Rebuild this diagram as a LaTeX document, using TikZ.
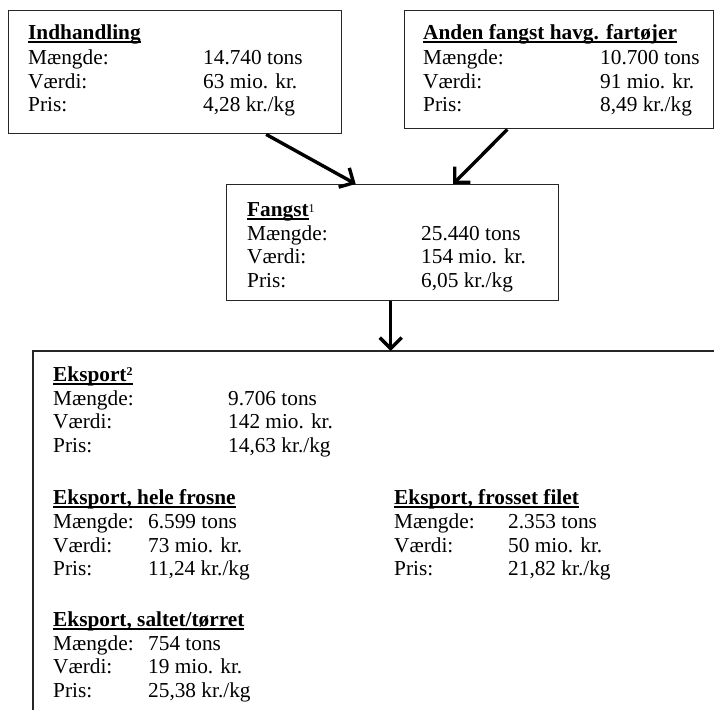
\documentclass[tikz,border=0pt]{standalone}
\usepackage{fontspec}
\setmainfont{Liberation Serif}
\usetikzlibrary{arrows.meta,calc}
\newcommand{\ulx}[1]{\setbox0\hbox{#1}\rlap{\rule[-3.8pt]{\wd0}{1.6pt}}\box0}
\newcommand{\supx}[2]{\raisebox{#1}{\fontsize{12}{12}\selectfont #2}}
\begin{document}
\begin{tikzpicture}[x=1pt,y=-1pt,
  box/.style={draw=black!85, line width=1.4pt, rectangle, anchor=north west, inner sep=0pt},
  boxline/.style={draw=black!85, line width=1.4pt},
  txt/.style={anchor=base west, inner sep=0pt, font=\fontsize{21.3}{24}\selectfont},
  flow/.style={line width=3.4pt, -{Straight Barb[length=11pt,width=22pt]}}]
\useasboundingbox (0,0) rectangle (714,710);

% boxes
\node[box, minimum width=333pt, minimum height=123pt] (ind) at (8,10) {};
\node[box, minimum width=309pt, minimum height=118pt] (anden) at (404,10) {};
\node[box, minimum width=332pt, minimum height=116pt] (fangst) at (226,184) {};
\coordinate (exptl) at (33,351);
\coordinate (exptr) at (714,351);
\coordinate (expbl) at (33,710);
\draw[boxline] (exptr) -- (exptl) -- (expbl);

% Indhandling
\node[txt] (i0) at (28,39) {\ulx{\bfseries Indhandling}};
\node[txt] (i1) at (28,64) {Mængde:};
\node[txt] (i1v) at (203,64) {14.740 tons};
\node[txt] (i2) at (28,88) {Værdi:};
\node[txt] (i2v) at (203,88) {63 mio. kr.};
\node[txt] (i3) at (28,111) {Pris:};
\node[txt] (i3v) at (203,111) {4,28 kr./kg};

% Anden fangst
\node[txt] (a0) at (423,39) {\ulx{\bfseries Anden fangst havg. fartøjer}};
\node[txt] (a1) at (423,64) {Mængde:};
\node[txt] (a1v) at (600,64) {10.700 tons};
\node[txt] (a2) at (423,88) {Værdi:};
\node[txt] (a2v) at (600,88) {91 mio. kr.};
\node[txt] (a3) at (423,111) {Pris:};
\node[txt] (a3v) at (600,111) {8,49 kr./kg};

% Fangst
\node[txt] (f0) at (247,216) {\ulx{\bfseries Fangst}\supx{4pt}{1}};
\node[txt] (f1) at (247,240) {Mængde:};
\node[txt] (f1v) at (421,240) {25.440 tons};
\node[txt] (f2) at (247,263) {Værdi:};
\node[txt] (f2v) at (421,263) {154 mio. kr.};
\node[txt] (f3) at (247,287) {Pris:};
\node[txt] (f3v) at (421,287) {6,05 kr./kg};

% Eksport
\node[txt] (e0) at (53,381) {\ulx{\bfseries Eksport\supx{6pt}{2}}};
\node[txt] (e1) at (53,405) {Mængde:};
\node[txt] (e1v) at (228,405) {9.706 tons};
\node[txt] (e2) at (53,428) {Værdi:};
\node[txt] (e2v) at (228,428) {142 mio. kr.};
\node[txt] (e3) at (53,452) {Pris:};
\node[txt] (e3v) at (228,452) {14,63 kr./kg};

% Eksport, hele frosne
\node[txt] (h0) at (53,504) {\ulx{\bfseries Eksport, hele frosne}};
\node[txt] (h1) at (53,528) {Mængde:};
\node[txt] (h1v) at (148,528) {6.599 tons};
\node[txt] (h2) at (53,552) {Værdi:};
\node[txt] (h2v) at (148,552) {73 mio. kr.};
\node[txt] (h3) at (53,575) {Pris:};
\node[txt] (h3v) at (148,575) {11,24 kr./kg};

% Eksport, frosset filet
\node[txt] (g0) at (394,504) {\ulx{\bfseries Eksport, frosset filet}};
\node[txt] (g1) at (394,528) {Mængde:};
\node[txt] (g1v) at (508,528) {2.353 tons};
\node[txt] (g2) at (394,552) {Værdi:};
\node[txt] (g2v) at (508,552) {50 mio. kr.};
\node[txt] (g3) at (394,575) {Pris:};
\node[txt] (g3v) at (508,575) {21,82 kr./kg};

% Eksport, saltet/tørret
\node[txt] (s0) at (53,626) {\ulx{\bfseries Eksport, saltet/tørret}};
\node[txt] (s1) at (53,650) {Mængde:};
\node[txt] (s1v) at (148,650) {754 tons};
\node[txt] (s2) at (53,673) {Værdi:};
\node[txt] (s2v) at (148,673) {19 mio. kr.};
\node[txt] (s3) at (53,697) {Pris:};
\node[txt] (s3v) at (148,697) {25,38 kr./kg};

% arrows
\draw[flow] ($(ind.south west)!0.772!(ind.south east)$) -- ($(fangst.north west)!0.389!(fangst.north east)$);
\draw[flow] ($(anden.south west)!0.333!(anden.south east)$) -- ($(fangst.north west)!0.681!(fangst.north east)$);
\draw[flow] ($(fangst.south west)!0.494!(fangst.south east)$) coordinate (fs) -- (fs |- exptl);
\end{tikzpicture}
\end{document}
